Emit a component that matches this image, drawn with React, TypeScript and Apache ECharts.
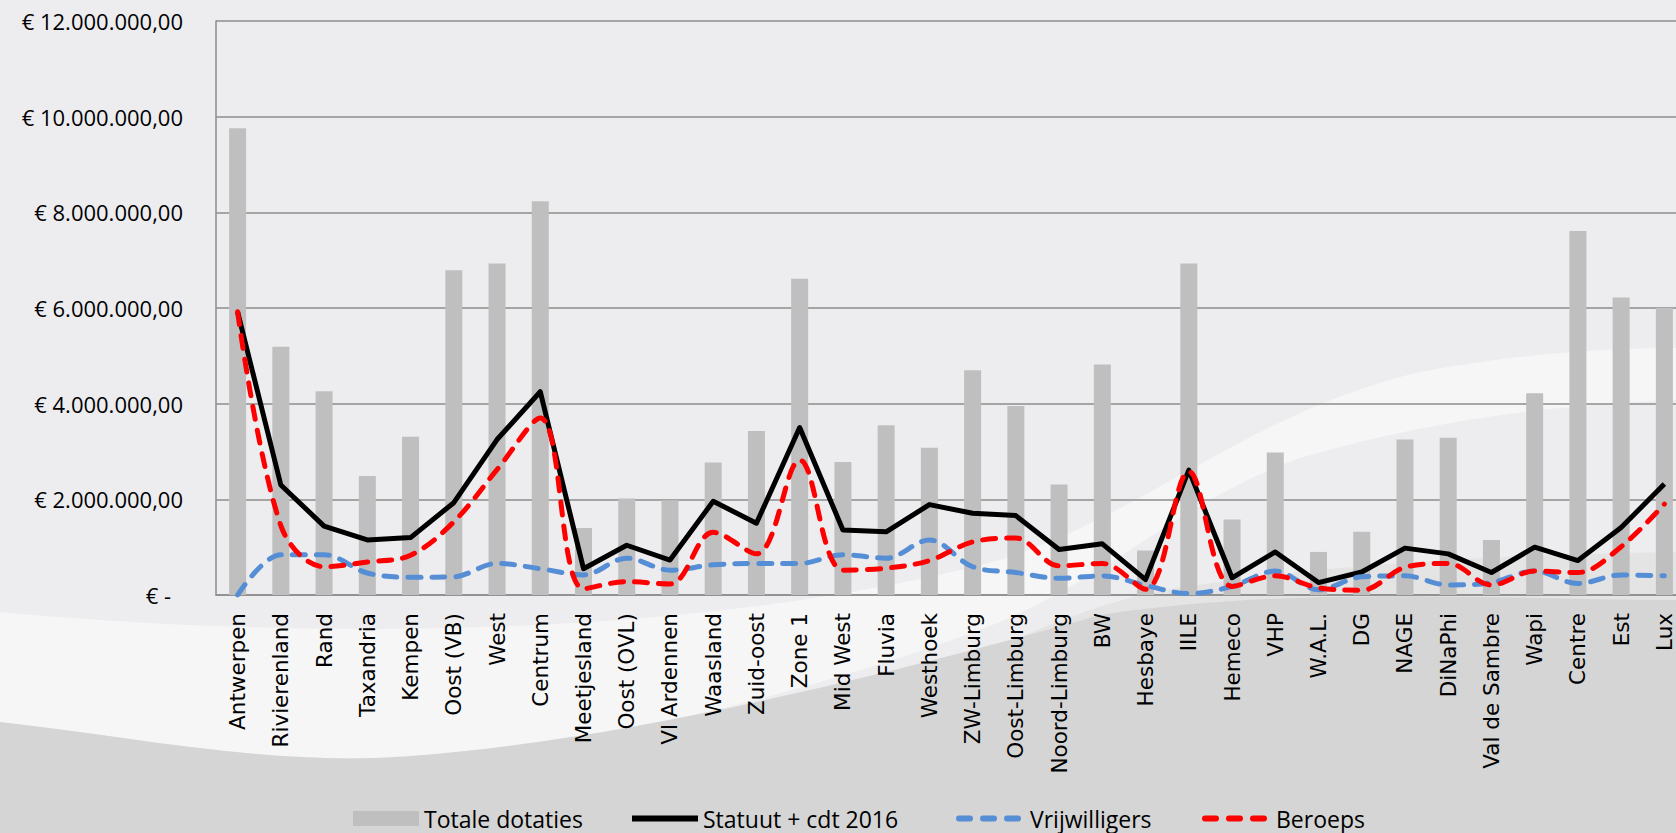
import React, { useEffect, useRef } from "react";
import * as echarts from "echarts";

const categories = [
  "Antwerpen", "Rivierenland", "Rand", "Taxandria", "Kempen", "Oost (VB)", "West", "Centrum",
  "Meetjesland", "Oost (OVL)", "Vl Ardennen", "Waasland", "Zuid-oost", "Zone 1", "Mid West",
  "Fluvia", "Westhoek", "ZW-Limburg", "Oost-Limburg", "Noord-Limburg", "BW", "Hesbaye", "IILE",
  "Hemeco", "VHP", "W.A.L.", "DG", "NAGE", "DiNaPhi", "Val de Sambre", "Wapi", "Centre", "Est", "Lux",
];

const totaleDotaties = [
  9760000, 5190000, 4260000, 2490000, 3310000, 6790000, 6930000, 8230000,
  1400000, 2020000, 1980000, 2770000, 3430000, 6610000, 2780000,
  3550000, 3080000, 4700000, 3950000, 2310000, 4820000, 930000, 6930000,
  1580000, 2980000, 900000, 1320000, 3250000, 3290000, 1150000, 4220000, 7610000, 6220000, 6000000,
];

const statuut = [
  5920000, 2300000, 1440000, 1150000, 1200000, 1930000, 3250000, 4250000,
  550000, 1040000, 730000, 1960000, 1500000, 3500000, 1360000,
  1320000, 1890000, 1710000, 1660000, 950000, 1070000, 320000, 2610000,
  360000, 900000, 260000, 480000, 980000, 860000, 470000, 1000000, 720000, 1410000, 2320000,
];

const vrijwilligers = [
  0, 840000, 840000, 460000, 370000, 380000, 660000, 550000,
  420000, 770000, 520000, 630000, 660000, 660000, 840000,
  770000, 1150000, 590000, 470000, 350000, 400000, 200000, 30000,
  180000, 500000, 110000, 380000, 400000, 210000, 260000, 500000, 240000, 420000, 400000,
];

const beroeps = [
  5920000, 1450000, 590000, 690000, 830000, 1530000, 2620000, 3700000,
  130000, 280000, 230000, 1310000, 860000, 2820000, 520000,
  560000, 720000, 1110000, 1190000, 610000, 660000, 120000, 2580000,
  180000, 400000, 150000, 100000, 580000, 660000, 210000, 500000, 470000, 1010000, 1900000,
];

const seriesNames = ["Totale dotaties", "Statuut + cdt 2016", "Vrijwilligers", "Beroeps"];

const GRAY_PATH =
  "M 0 722 C 120 735 250 762 374 758 C 600 748 900 672 1100 615 C 1300 585 1500 600 1676 600 L 1676 833 L 0 833 Z";
const MID_PATH =
  "M 900 700 C 1000 640 1100 600 1176 588 C 1350 562 1500 555 1676 552 L 1676 833 L 900 833 Z";
const WHITE_PATH =
  "M 0 612 C 300 640 700 640 1000 560 C 1150 512 1250 412 1420 372 C 1520 354 1600 348 1676 348 " +
  "L 1676 400 C 1550 405 1430 420 1300 458 C 1180 502 1120 570 1000 622 C 800 700 500 768 374 758 " +
  "C 250 762 120 735 0 722 Z";

echarts.graphic.registerShape("bgGrayShape", echarts.graphic.extendPath(GRAY_PATH, {}));
echarts.graphic.registerShape("bgMidShape", echarts.graphic.extendPath(MID_PATH, {}));
echarts.graphic.registerShape("bgWhiteShape", echarts.graphic.extendPath(WHITE_PATH, {}));

function fmtEuro(v: number): string {
  if (v === 0) return "{z|€ -}";
  const s = Math.round(v).toString().replace(/\B(?=(\d{3})+(?!\d))/g, ".");
  return "€ " + s + ",00";
}

export default function App() {
  const ref = useRef<HTMLDivElement>(null);
  useEffect(() => {
    if (!ref.current) return;
    const chart = echarts.init(ref.current, undefined, { renderer: "svg" });
    const dash = { type: [13, 11] as any, cap: "round" as const, width: 5 };
    const legendBase = {
      top: 802,
      itemWidth: 66,
      itemHeight: 15,
      textStyle: { fontFamily: "Open Sans", fontSize: 23, color: "#000" },
    };
    const legendLefts = [348, 624, 951, 1197];
    chart.setOption({
      animation: false,
      backgroundColor: "#EDEDF0",
      graphic: [
        { type: "bgWhiteShape", x: 0, y: 0, z: -10, silent: true, style: { fill: "#F6F6F7" } },
        { type: "bgMidShape", x: 0, y: 0, z: -9, silent: true, style: { fill: "#E4E4E5" } },
        { type: "bgGrayShape", x: 0, y: 0, z: -8, silent: true, style: { fill: "#D5D5D5" } },
      ],
      grid: { left: 216, right: -10, top: 21, bottom: 238, containLabel: false, outerBoundsMode: "none" },
      legend: [
        { ...legendBase, left: legendLefts[0], data: [{ name: seriesNames[0], icon: "rect" }] },
        {
          ...legendBase,
          left: legendLefts[1],
          data: [
            {
              name: seriesNames[1],
              itemStyle: { opacity: 0 },
              lineStyle: { color: "#000000", width: 6, type: "solid", cap: "butt" },
            },
          ],
        },
        {
          ...legendBase,
          left: legendLefts[2],
          data: [
            {
              name: seriesNames[2],
              itemStyle: { opacity: 0 },
              lineStyle: { color: "#558ED5", width: 6, type: [11, 13], cap: "round" },
            },
          ],
        },
        {
          ...legendBase,
          left: legendLefts[3],
          data: [
            {
              name: seriesNames[3],
              itemStyle: { opacity: 0 },
              lineStyle: { color: "#FF0000", width: 6, type: [11, 13], cap: "round" },
            },
          ],
        },
      ],
      xAxis: {
        type: "category",
        data: categories,
        axisLine: { show: true, lineStyle: { color: "#8C8C8C", width: 1.5 } },
        axisTick: { show: false },
        axisLabel: {
          rotate: 90,
          margin: 18,
          interval: 0,
          fontFamily: "DejaVu Sans",
          fontSize: 21.5,
          color: "#000",
        },
      },
      yAxis: {
        type: "value",
        min: 0,
        max: 12000000,
        interval: 2000000,
        axisLine: { show: true, lineStyle: { color: "#8C8C8C", width: 1.5 } },
        axisTick: { show: false },
        splitLine: { show: true, lineStyle: { color: "#8C8C8C", width: 1.5 } },
        axisLabel: {
          margin: 33,
          fontFamily: "Open Sans",
          fontSize: 22,
          color: "#000",
          formatter: (v: number) => fmtEuro(v),
          rich: {
            z: { fontFamily: "Open Sans", fontSize: 22, color: "#000", padding: [0, 12, 0, 0] },
          },
        },
      },
      series: [
        {
          name: seriesNames[0],
          type: "bar",
          data: totaleDotaties,
          barWidth: 17,
          itemStyle: { color: "#BFBFBF" },
        },
        {
          name: seriesNames[1],
          type: "line",
          data: statuut,
          symbol: "none",
          lineStyle: { color: "#000000", width: 5, join: "round" },
          itemStyle: { color: "#000000" },
        },
        {
          name: seriesNames[2],
          type: "line",
          data: vrijwilligers,
          symbol: "none",
          smooth: 0.35,
          lineStyle: { color: "#558ED5", ...dash },
          itemStyle: { color: "#558ED5" },
        },
        {
          name: seriesNames[3],
          type: "line",
          data: beroeps,
          symbol: "none",
          smooth: 0.35,
          lineStyle: { color: "#FF0000", ...dash },
          itemStyle: { color: "#FF0000" },
        },
      ],
    });
    return () => chart.dispose();
  }, []);
  return (
    <div
      ref={ref}
      style={{ position: "absolute", left: 0, top: 0, width: 1676, height: 833 }}
    />
  );
}
